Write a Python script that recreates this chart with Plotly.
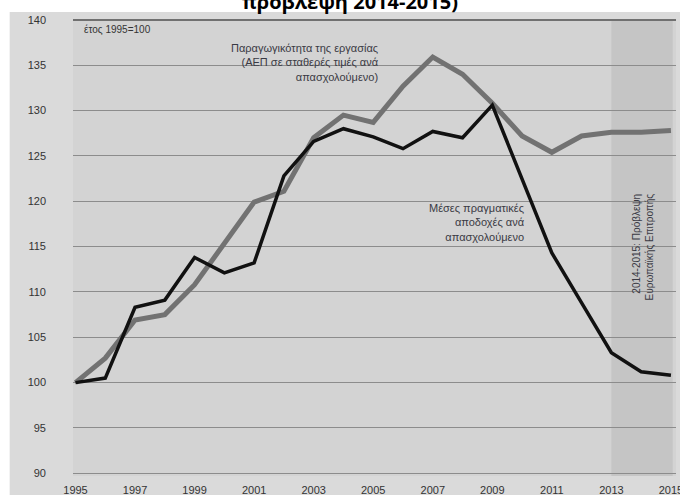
import plotly.graph_objects as go

# Index values, 1995 = 100
years = list(range(1995, 2016))
productivity = [100.0, 102.7, 106.9, 107.5, 110.8, 115.4, 119.9, 121.1, 127.0, 129.5,
                128.7, 132.7, 135.9, 134.0, 130.8, 127.2, 125.4, 127.2, 127.6, 127.6, 127.8]
real_wages = [100.0, 100.5, 108.3, 109.1, 113.8, 112.1, 113.2, 122.8, 126.6, 128.0,
              127.1, 125.8, 127.7, 127.0, 130.6, 122.4, 114.3, 108.8, 103.3, 101.2, 100.8]

y_ticks = [90, 95, 100, 105, 110, 115, 120, 125, 130, 135, 140]
x_ticks = list(range(1995, 2016, 2))
forecast_start, forecast_end = 2013, 2015

label_font = "Liberation Sans Narrow, Liberation Sans, Arial, sans-serif"

fig = go.Figure()
fig.add_trace(go.Scatter(x=years, y=productivity, mode="lines",
                         line=dict(color="#727272", width=5), hoverinfo="skip"))
fig.add_trace(go.Scatter(x=years, y=real_wages, mode="lines",
                         line=dict(color="#111111", width=3.5), hoverinfo="skip"))

shapes = [
    # grey panel behind the chart
    dict(type="rect", xref="paper", yref="paper", x0=-0.105, x1=1.02, y0=-0.05, y1=1.0153,
         fillcolor="#dadada", line_width=0, layer="below"),
    # plot area
    dict(type="rect", xref="paper", yref="paper", x0=0, x1=1, y0=0, y1=1,
         fillcolor="#d3d3d3", line_width=0, layer="below"),
    # forecast band
    dict(type="rect", xref="x", yref="paper", x0=forecast_start, x1=forecast_end + 0.06,
         y0=0, y1=1, fillcolor="#c5c5c5", line_width=0, layer="below"),
    # top rule
    dict(type="line", xref="paper", yref="y", x0=0, x1=1, y0=140, y1=140,
         line=dict(color="#707070", width=2)),
]

annotations = [
    dict(text="<b>πρόβλεψη 2014-2015)</b>", xref="paper", yref="paper", x=0.46, y=1.039,
         xanchor="center", yanchor="middle", showarrow=False,
         font=dict(family="Open Sans, sans-serif", size=20, color="#000000")),
    dict(text="έτος 1995=100", xref="paper", yref="paper", x=0.015, y=0.977,
         xanchor="left", yanchor="middle", showarrow=False,
         font=dict(family=label_font, size=10, color="#333333")),
    dict(text="Παραγωγικότητα της εργασίας<br>(ΑΕΠ σε σταθερές τιμές ανά<br>απασχολούμενο)",
         xref="paper", yref="paper", x=0.51, y=0.905, xanchor="right", yanchor="middle",
         align="right", showarrow=False,
         font=dict(family=label_font, size=11, color="#3a3a44")),
    dict(text="Μέσες πραγματικές<br>αποδοχές ανά<br>απασχολούμενο",
         xref="paper", yref="paper", x=0.753, y=0.555, xanchor="right", yanchor="middle",
         align="right", showarrow=False,
         font=dict(family=label_font, size=11, color="#3a3a44")),
    dict(text="2014-2015: Πρόβλεψη<br>Ευρωπαϊκής Επιτροπής", textangle=-90,
         xref="paper", yref="paper", x=0.945, y=0.502, xanchor="center", yanchor="middle",
         align="right", showarrow=False,
         font=dict(family=label_font, size=10, color="#3a3a44")),
]

fig.update_layout(
    width=680, height=495,
    margin=dict(l=73, r=4, t=19, b=19, autoexpand=False),
    paper_bgcolor="#ffffff",
    plot_bgcolor="rgba(0,0,0,0)",
    showlegend=False,
    shapes=shapes,
    annotations=annotations,
    xaxis=dict(range=[1994.916, 2015.17], tickvals=x_ticks, ticktext=[str(v) for v in x_ticks],
               showgrid=False, zeroline=False, showline=False, ticks="",
               ticklabelstandoff=6, ticklabeloverflow="allow", automargin=False,
               tickfont=dict(family=label_font, size=11, color="#333333"),
               fixedrange=True),
    yaxis=dict(range=[89.7, 140.1], tickvals=y_ticks, ticktext=[str(v) for v in y_ticks],
               showgrid=True, gridcolor="#8c8c8c", gridwidth=1, zeroline=False,
               showline=False, ticks="", ticklabelstandoff=26, automargin=False,
               tickfont=dict(family=label_font, size=11, color="#333333"),
               fixedrange=True),
)

fig.write_html("out.html")
